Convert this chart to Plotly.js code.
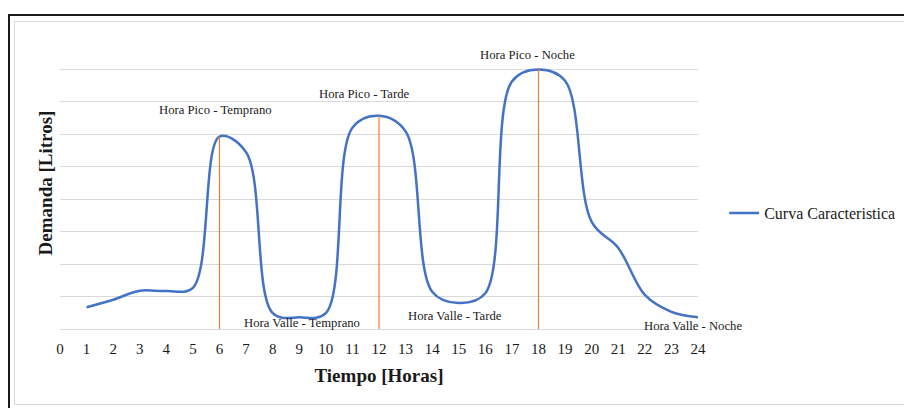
<!DOCTYPE html>
<html>
<head>
<meta charset="utf-8">
<script src="https://cdn.plot.ly/plotly-3.0.1.min.js"></script>
<style>
  html, body { margin: 0; padding: 0; background: #ffffff; }
  #wrap { position: relative; width: 904px; height: 408px; overflow: hidden; background: #ffffff; }
  #outer { position: absolute; left: 8px; top: 14px; width: 1000px; height: 500px;
           border-left: 2px solid #1a1a1a; border-top: 2px solid #1a1a1a; box-sizing: border-box; }
  #inner { position: absolute; left: 14px; top: 21px; width: 1000px; height: 384px;
           border: 1px solid #d9d9d9; box-sizing: border-box; }
  #chart { position: absolute; left: 0; top: 0; width: 904px; height: 408px; }
</style>
</head>
<body>
<div id="wrap">
  <div id="outer"></div>
  <div id="inner"></div>
  <div id="chart"></div>
</div>
<script>
// Hours of the day
const hours = [1, 2, 3, 4, 5, 6, 7, 8, 9, 10, 11, 12, 13, 14, 15, 16, 17, 18, 19, 20, 21, 22, 23, 24];
const demand = [0.67, 0.9, 1.18, 1.17, 1.27, 5.93, 5.45, 0.49, 0.36, 0.49, 6.2, 6.57, 6.09, 1.15, 0.8, 1.1, 7.63, 8.0, 7.65, 3.3, 2.5, 1.05, 0.53, 0.36];
// Peak hours marked with vertical lines
const peakHours = [6, 12, 18];
// X tick labels
const xTicks = [0, 1, 2, 3, 4, 5, 6, 7, 8, 9, 10, 11, 12, 13, 14, 15, 16, 17, 18, 19, 20, 21, 22, 23, 24];
// Annotation labels
const labelTexts = ["Hora Pico - Temprano", "Hora Pico - Tarde", "Hora Pico - Noche",
                    "Hora Valle - Temprano", "Hora Valle - Tarde", "Hora Valle - Noche"];
const labelX = [5.86, 11.43, 17.57, 9.1, 14.85, 23.83];
const labelY = [6.76, 7.25, 8.43, 0.18, 0.4, 0.1];

const serif = 'Liberation Serif, serif';

const traces = [];
traces.push({
  x: hours, y: demand, type: 'scatter', mode: 'lines',
  name: 'Curva Caracteristica',
  line: { color: '#4472C4', width: 2.5, shape: 'spline', smoothing: 1 },
  hoverinfo: 'skip'
});
peakHours.forEach(h => {
  const v = demand[hours.indexOf(h)];
  traces.push({
    x: [h, h], y: [0, v], type: 'scatter', mode: 'lines',
    showlegend: false, line: { color: '#ED7D31', width: 1.2 }, hoverinfo: 'skip'
  });
});

const annotations = labelTexts.map((t, i) => ({
  x: labelX[i], y: labelY[i], xref: 'x', yref: 'y', text: t, showarrow: false,
  xanchor: 'center', yanchor: 'middle',
  font: { family: serif, size: 12.7, color: '#1a1a1a' }
}));

const layout = {
  width: 904, height: 408,
  paper_bgcolor: 'rgba(0,0,0,0)', plot_bgcolor: 'rgba(0,0,0,0)',
  font: { family: serif, color: '#1a1a1a' },
  margin: { l: 60, r: 206, t: 37, b: 79, pad: 0, autoexpand: false },
  xaxis: {
    range: [0, 24], tickvals: xTicks, ticktext: xTicks.map(String),
    showgrid: false, zeroline: false, showline: true, linecolor: '#d9d9d9', linewidth: 1,
    ticks: '', ticklabelstandoff: 6, tickfont: { family: serif, size: 15, color: '#1a1a1a' },
    title: { text: '<b>Tiempo [Horas]</b>', font: { family: serif, size: 19, color: '#1a1a1a' }, standoff: 12 },
    fixedrange: true
  },
  yaxis: {
    range: [0, 9], dtick: 1, tick0: 0, showgrid: true, gridcolor: '#d9d9d9', gridwidth: 1,
    zeroline: false, showline: false, showticklabels: false, ticks: '',
    title: { text: '<b>Demanda [Litros]</b>', font: { family: serif, size: 19, color: '#1a1a1a' }, standoff: 1 },
    fixedrange: true
  },
  showlegend: true,
  legend: {
    x: 1.041, xanchor: 'left', y: 0.397, yanchor: 'middle',
    font: { family: serif, size: 16, color: '#1a1a1a' },
    bgcolor: 'rgba(0,0,0,0)', borderwidth: 0
  },
  annotations: annotations
};

Plotly.newPlot('chart', traces, layout, { displayModeBar: false, staticPlot: true });
</script>
</body>
</html>
